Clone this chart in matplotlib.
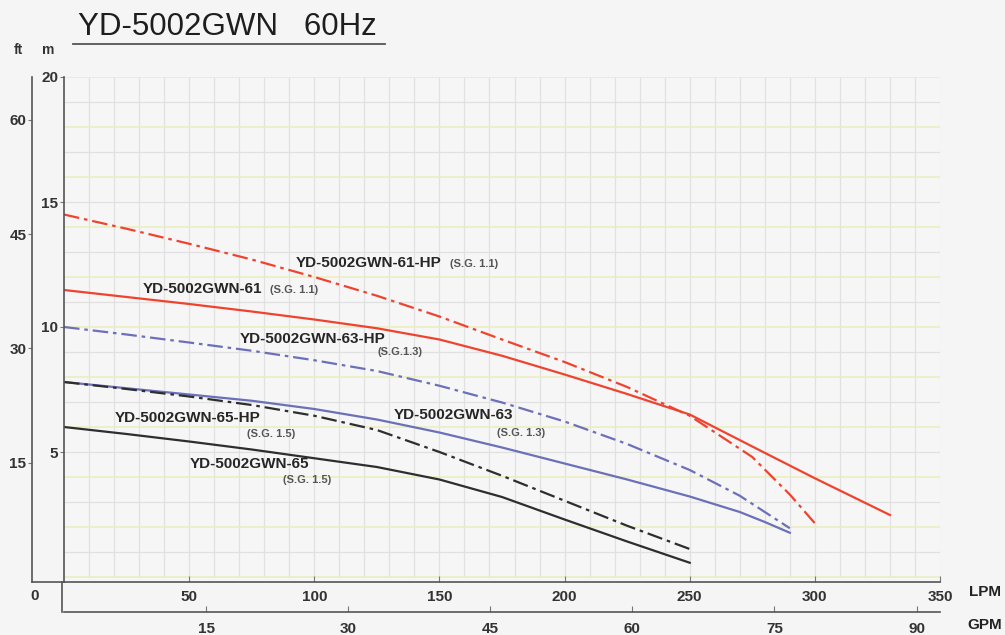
import numpy as np
import matplotlib.pyplot as plt
from matplotlib.lines import Line2D

# flow (LPM) and head (m)
q_61hp = [0, 25, 50, 75, 100, 125, 150, 175, 200, 225, 250, 275, 290, 300]
h_61hp = [14.5, 13.93, 13.33, 12.7, 12.0, 11.25, 10.42, 9.5, 8.6, 7.6, 6.45, 4.8, 3.3, 2.15]

q_61 = [0, 25, 50, 75, 100, 125, 150, 175, 200, 225, 250, 275, 300, 330]
h_61 = [11.48, 11.2, 10.92, 10.62, 10.3, 9.95, 9.5, 8.85, 8.1, 7.32, 6.5, 5.22, 3.95, 2.48]

q_63hp = [0, 25, 50, 75, 100, 125, 150, 175, 200, 225, 250, 270, 290]
h_63hp = [10.0, 9.7, 9.38, 9.05, 8.67, 8.24, 7.65, 6.98, 6.22, 5.32, 4.28, 3.25, 1.95]

q_63 = [0, 25, 50, 75, 100, 125, 150, 175, 200, 225, 250, 270, 280, 290]
h_63 = [7.8, 7.55, 7.3, 7.05, 6.72, 6.3, 5.78, 5.18, 4.54, 3.9, 3.22, 2.6, 2.2, 1.77]

q_65hp = [0, 25, 50, 75, 100, 125, 150, 175, 200, 225, 250]
h_65hp = [7.8, 7.52, 7.22, 6.88, 6.45, 5.88, 5.0, 4.05, 3.05, 2.05, 1.12]

q_65 = [0, 25, 50, 75, 100, 125, 150, 175, 200, 225, 250]
h_65 = [6.0, 5.72, 5.42, 5.1, 4.75, 4.4, 3.9, 3.2, 2.3, 1.42, 0.57]

lpm_ticks = [50, 100, 150, 200, 250, 300, 350]
gpm_ticks = [15, 30, 45, 60, 75, 90]
m_ticks = [5, 10, 15, 20]
ft_ticks = [15, 30, 45, 60]

RED = '#f0432f'
BLUE = '#6b70b8'
BLACK = '#2e2e2e'
TXT = '#262626'

plt.rcParams['font.family'] = ['Liberation Sans', 'DejaVu Sans']

fig = plt.figure(figsize=(10.05, 6.35), dpi=100, facecolor='#f5f5f5')
W, H = 1005, 635
ax = fig.add_axes([64 / W, 1 - 582 / H, 876 / W, 505 / H])
ax.set_facecolor('#f6f6f6')
ax.set_xlim(0, 350)
ax.set_ylim(-0.2, 20)

# grid
ax.vlines(np.arange(10, 351, 10), 0, 20, color='#e1e1e1', lw=0.9, zorder=0)
ax.hlines(np.arange(0, 21, 2), 0, 350, color='#eaedbd', lw=1.1, zorder=0)
ax.hlines(np.arange(1, 20, 2), 0, 350, color='#e0e0e0', lw=0.9, zorder=0)

# curves
dd = (0, (7, 2.2, 1.6, 2.2))
ax.plot(q_61hp, h_61hp, color=RED, lw=1.6, ls=dd)
ax.plot(q_61, h_61, color=RED, lw=1.6)
ax.plot(q_63hp, h_63hp, color=BLUE, lw=1.6, ls=dd)
ax.plot(q_63, h_63, color=BLUE, lw=1.6)
ax.plot(q_65hp, h_65hp, color=BLACK, lw=1.6, ls=dd)
ax.plot(q_65, h_65, color=BLACK, lw=1.6)

# labels
lab = dict(fontsize=11, fontweight='bold', color=TXT, va='center', ha='left')
sg = dict(fontsize=8, fontweight='bold', color='#555555', va='center', ha='left')
ax.text(92.4, 12.56, 'YD-5002GWN-61-HP', **lab)
ax.text(154.4, 12.52, '(S.G. 1.1)', **sg)
ax.text(31.6, 11.52, 'YD-5002GWN-61', **lab)
ax.text(82.4, 11.48, '(S.G. 1.1)', **sg)
ax.text(70.4, 9.52, 'YD-5002GWN-63-HP', **lab)
ax.text(125.2, 9.0, '(S.G.1.3)', **sg)
ax.text(20.4, 6.36, 'YD-5002GWN-65-HP', **lab)
ax.text(73.2, 5.72, '(S.G. 1.5)', **sg)
ax.text(131.6, 6.48, 'YD-5002GWN-63', **lab)
ax.text(173.2, 5.76, '(S.G. 1.3)', **sg)
ax.text(50.4, 4.52, 'YD-5002GWN-65', **lab)
ax.text(87.6, 3.88, '(S.G. 1.5)', **sg)

# axes styling
for s in ['top', 'right']:
    ax.spines[s].set_visible(False)
for s in ['left', 'bottom']:
    ax.spines[s].set_color('#555555')
    ax.spines[s].set_linewidth(1.2)
tickfont = dict(fontsize=11, fontweight='bold', color='#333333')
ax.set_xticks(lpm_ticks)
ax.set_xticklabels([str(t) for t in lpm_ticks], **tickfont)
ax.set_yticks(m_ticks)
ax.set_yticklabels([str(t) for t in m_ticks], **tickfont)
ax.tick_params(axis='x', direction='in', length=4, pad=6, color='#777777')
ax.tick_params(axis='y', direction='out', length=3, pad=1, color='#777777')

secx = ax.secondary_xaxis(-30 / 505, functions=(lambda l: l / 3.785, lambda g: g * 3.785))
secx.set_xticks(gpm_ticks)
secx.set_xticklabels([str(t) for t in gpm_ticks], **tickfont)
secx.tick_params(direction='in', length=4, pad=7, color='#777777')
secx.spines['bottom'].set_color('#555555')
secx.spines['bottom'].set_linewidth(1.2)

secy = ax.secondary_yaxis(-32 / 876, functions=(lambda m: m * 3.2808, lambda f: f / 3.2808))
secy.set_yticks(ft_ticks)
secy.set_yticklabels([str(t) for t in ft_ticks], **tickfont)
secy.tick_params(direction='out', length=3, pad=1, color='#777777')
secy.spines['left'].set_color('#555555')
secy.spines['left'].set_linewidth(1.2)

# extra frame segments
fig.add_artist(Line2D([62 / W, 62 / W], [1 - 582 / H, 1 - 612 / H], color='#555555', lw=1.2))
fig.add_artist(Line2D([32 / W, 64 / W], [1 - 582 / H, 1 - 582 / H], color='#555555', lw=1.2))

fig.text(35 / W, 1 - 596 / H, '0', ha='center', va='center', **tickfont)
fig.text(18 / W, 1 - 50 / H, 'ft', ha='center', va='center', fontsize=10, fontweight='bold', color='#333333')
fig.text(48 / W, 1 - 50 / H, 'm', ha='center', va='center', fontsize=10, fontweight='bold', color='#333333')
fig.text(985 / W, 1 - 592 / H, 'LPM', ha='center', va='center', fontsize=11, fontweight='bold', color='#222222')
fig.text(985 / W, 1 - 625 / H, 'GPM', ha='center', va='center', fontsize=11, fontweight='bold', color='#222222')

# title
fig.text(78 / W, 1 - 27 / H, 'YD-5002GWN   60Hz', ha='left', va='center', fontsize=22.5, color='#1e1e1e')
fig.add_artist(Line2D([73 / W, 385 / W], [1 - 44 / H, 1 - 44 / H], color='#555555', lw=1.3))

fig.savefig('out.png', dpi=100, facecolor=fig.get_facecolor())
